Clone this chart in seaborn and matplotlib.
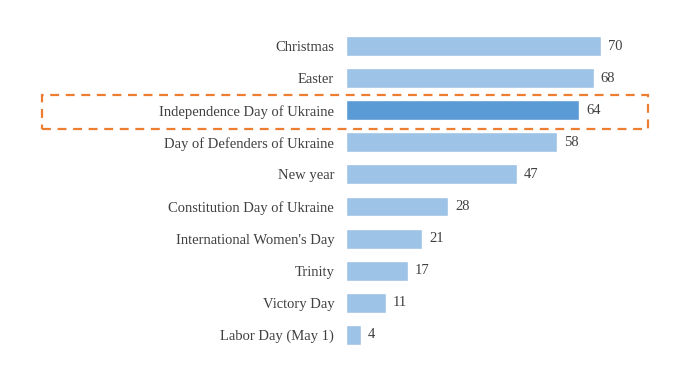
import seaborn as sns
import matplotlib.pyplot as plt
import pandas as pd
from matplotlib.patches import Rectangle

holidays = ['Christmas', 'Easter', 'Independence Day of Ukraine', 'Day of Defenders of Ukraine',
            'New year', 'Constitution Day of Ukraine', "International Women's Day", 'Trinity',
            'Victory Day', 'Labor Day (May 1)']
values = [70, 68, 64, 58, 47, 28, 21, 17, 11, 4]
highlight = 'Independence Day of Ukraine'

df = pd.DataFrame({'holiday': holidays, 'value': values})
colors = ['#5B9BD5' if h == highlight else '#9DC3E6' for h in holidays]

sns.set_style('white')
plt.rcParams['font.family'] = ['Liberation Serif', 'DejaVu Serif']

fig = plt.figure(figsize=(6.9, 3.88), dpi=100)
ax = fig.add_axes([0.5014, 0.0954, 0.4224, 0.8273])
sns.barplot(data=df, x='value', y='holiday', hue='holiday', palette=colors, legend=False,
            width=0.62, ax=ax, saturation=1)

ax.set_xlim(0, 80)
ax.set_ylim(9.5, -0.5)
ax.set_xlabel('')
ax.set_ylabel('')
ax.set_xticks([])
sns.despine(ax=ax, left=True, bottom=True)
ax.tick_params(axis='y', length=0, pad=8.5, labelsize=10.5, labelcolor='#404040')

for i, v in enumerate(values):
    ax.text(v + 1.9, i, str(v), va='center', ha='left', fontsize=10.5, color='#404040')

# dashed frame round the highlighted row
fig.patches.append(Rectangle((42 / 690, 1 - 129 / 388), 606 / 690, 34 / 388,
                             transform=fig.transFigure, fill=False, edgecolor='#ED7D31',
                             linewidth=1.6, linestyle=(0, (4, 3))))

fig.savefig('out.png', dpi=100)
